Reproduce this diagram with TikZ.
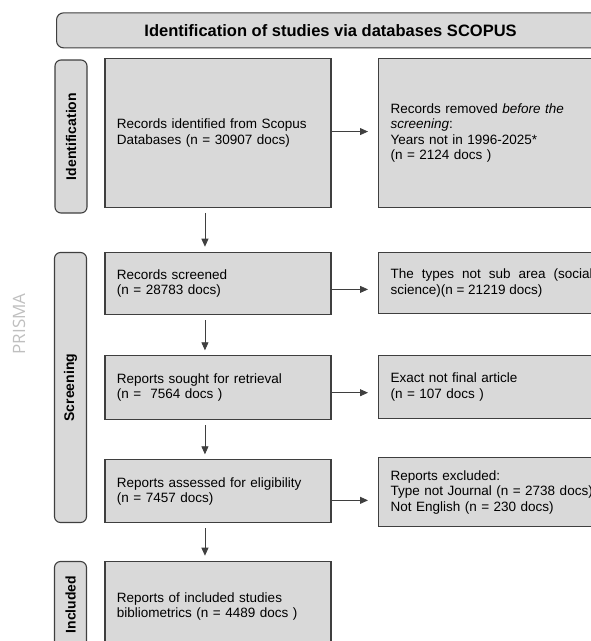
\documentclass[tikz,border=0pt]{standalone}
\usepackage{fontspec}
\setmainfont{Liberation Sans}
\newfontfamily\prismafont{Open Sans}
\usepackage{tikz}
\usetikzlibrary{arrows.meta,positioning,calc}
\definecolor{BoxGray}{HTML}{D9D9D9}
\definecolor{EdgeGray}{HTML}{3F3F3F}
\definecolor{SoftGray}{HTML}{BFBFBF}

\tikzset{
  flowbox/.style={draw=EdgeGray,fill=BoxGray,line width=1.1pt,anchor=north west,
    text width=202pt,inner xsep=12pt,inner ysep=0pt,align=left,
    font=\fontsize{13.5}{15.5}\selectfont},
  stagebox/.style={draw=EdgeGray,fill=BoxGray,line width=1.1pt,rounded corners=6pt,
    rotate=90,minimum height=32pt,inner sep=0pt,font=\bfseries\fontsize{14}{14}\selectfont},
  headbox/.style={draw=EdgeGray,fill=BoxGray,line width=1.1pt,rounded corners=7pt,
    anchor=north west,minimum width=548pt,minimum height=35pt,inner sep=0pt,
    font=\bfseries\fontsize{16.5}{16.5}\selectfont},
  flowarrow/.style={draw=EdgeGray,line width=.8pt,-{Triangle[length=8pt,width=7pt]}}
}

\begin{document}
\begin{tikzpicture}[x=1pt,y=-1pt]
  \useasboundingbox (0,0) rectangle (591,641);
  \clip (0,0) rectangle (591,641);
  % header and stage labels
  \node[headbox] (hdr) at (56,12.3) {Identification of studies via databases SCOPUS};
  \node[stagebox,minimum width=153pt] (labId) at (71,136.5) {Identification};
  \node[stagebox,minimum width=270pt] (labScr) at (70.5,387.5) {Screening};
  \node[stagebox,minimum width=86pt] (labInc) at (70.5,604.5) {Included};
  \node[rotate=90,text=SoftGray,font=\prismafont\fontsize{17}{17}\selectfont] (prisma) at (19,324) {PRISMA};

  % main column
  \node[flowbox,minimum height=148.4pt] (recId) at (104.4,58.3)
    {Records identified from Scopus\\Databases (n = 30907 docs)};
  \node[flowbox,minimum height=62.3pt] (recScr) at (104.4,251.7)
    {Records screened\\(n = 28783 docs)};
  \node[flowbox,minimum height=63.7pt] (repSou) at (104.4,355.3)
    {Reports sought for retrieval\\(n = ~7564 docs )};
  \node[flowbox,minimum height=63pt] (repAss) at (104.4,459.3)
    {Reports assessed for eligibility\\(n = 7457 docs)};
  \node[flowbox,minimum height=90pt] (repInc) at (104.4,560.7)
    {Reports of included studies\\bibliometrics (n = 4489 docs )};

  % side column
  \node[flowbox,minimum height=148.7pt] (recRem) at (378,58.3)
    {Records removed \textit{before the}\\\textit{screening}:\\Years not in 1996-2025*\\(n = 2124 docs )};
  \node[flowbox,minimum height=61.5pt,align=justify] (typOut) at (378,251.7)
    {The types not sub area (social\linebreak science)(n = 21219 docs)};
  \node[flowbox,minimum height=63.3pt] (notFin) at (378,355)
    {Exact not final article\\(n = 107 docs )};
  \node[flowbox,minimum height=68.4pt,text width=216pt] (repExc) at (378,457.3)
    {Reports excluded:\\Type not Journal (n = 2738 docs)\\Not English (n = 230 docs)};

  % connectors
  \draw[flowarrow,shorten >=10pt] ([yshift=1.5pt]recId.east) -- ([yshift=1.5pt]recId.east -| recRem.west);
  \draw[flowarrow,shorten >=10pt] ([yshift=-6pt]recScr.east) -- ([yshift=-6pt]recScr.east -| typOut.west);
  \draw[flowarrow,shorten >=10pt] ([yshift=-5pt]repSou.east) -- ([yshift=-5pt]repSou.east -| notFin.west);
  \draw[flowarrow,shorten >=10pt] ([yshift=-9pt]repAss.east) -- ([yshift=-9pt]repAss.east -| repExc.west);
  \foreach \a/\b in {recId/recScr,recScr/repSou,repSou/repAss,repAss/repInc}
    \draw[flowarrow,shorten <=5pt,shorten >=5pt] ([xshift=-13pt]\a.south) -- ([xshift=-13pt]\b.north);
\end{tikzpicture}
\end{document}
